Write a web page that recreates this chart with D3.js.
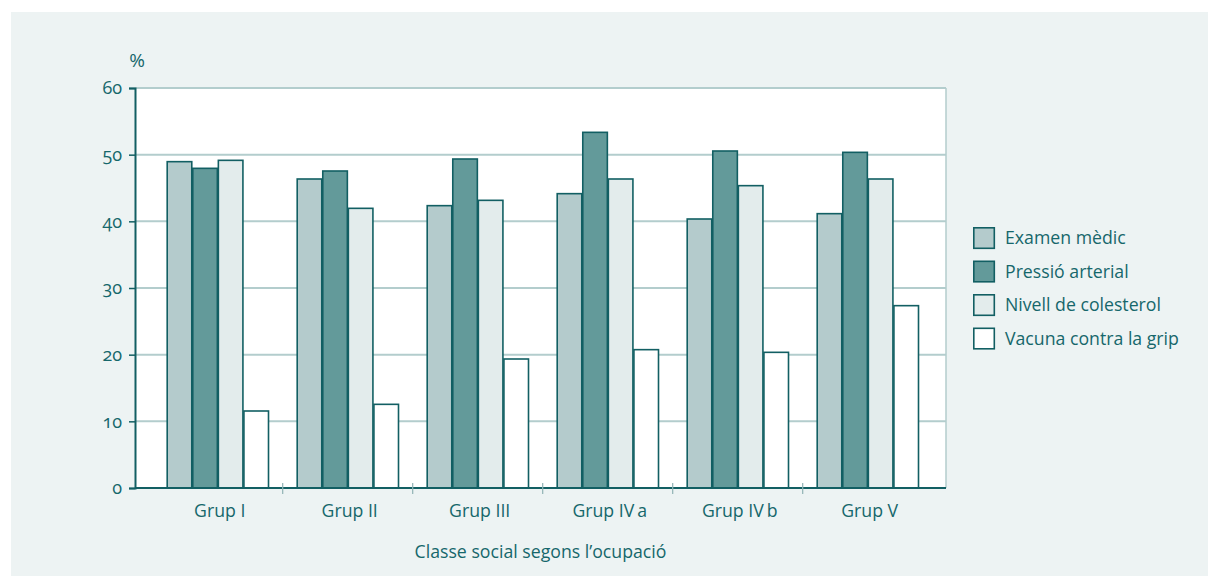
<!DOCTYPE html>
<html>
<head>
<meta charset="utf-8">
<script src="https://cdn.jsdelivr.net/npm/d3@7"></script>
<style>
  html, body { margin: 0; padding: 0; background: #ffffff; }
  svg { display: block; font-family: "Open Sans", Lato, sans-serif; }
  text { fill: #16676b; font-variant-numeric: oldstyle-nums; }
</style>
</head>
<body>
<svg id="chart" width="1208" height="576"></svg>
<script>
// Share of people who had each check-up, by occupational social class (%)
const categories = ["Grup I", "Grup II", "Grup III", "Grup IV\u2009a", "Grup IV\u2009b", "Grup V"];
const seriesNames = ["Examen mèdic", "Pressió arterial", "Nivell de colesterol", "Vacuna contra la grip"];
const examenMedic      = [48.95, 46.35, 42.35, 44.15, 40.35, 41.15];
const pressioArterial  = [47.95, 47.55, 49.35, 53.35, 50.55, 50.35];
const nivellColesterol = [49.15, 41.95, 43.15, 46.35, 45.35, 46.35];
const vacunaGrip       = [11.55, 12.55, 19.35, 20.75, 20.35, 27.35];
const yTicks = [0, 10, 20, 30, 40, 50, 60];
const xTitle = "Classe social segons l\u2019ocupació";
const yUnit = "%";

const seriesValues = [examenMedic, pressioArterial, nivellColesterol, vacunaGrip];
const fills = ["#b4cbcc", "#639a9a", "#e3ecec", "#ffffff"];
const ink = "#125f63";
const gridColor = "#b3cdcd";
const fontSize = 17.7;

const svg = d3.select("#chart");

// Panel background
svg.append("rect").attr("x", 11).attr("y", 12).attr("width", 1197).attr("height", 564)
  .attr("fill", "#edf3f3");

const plot = { left: 135, right: 946, top: 88, bottom: 488 };

svg.append("rect")
  .attr("x", plot.left).attr("y", plot.top)
  .attr("width", plot.right - plot.left).attr("height", plot.bottom - plot.top)
  .attr("fill", "#ffffff");

const y = d3.scaleLinear().domain([0, 60]).range([plot.bottom, plot.top]);
const x = d3.scaleBand().domain(categories).range([152.7, 932.7]).paddingInner(0).paddingOuter(0);
const inner = d3.scaleBand().domain(seriesNames)
  .range([14, x.bandwidth() - 13.7]).padding(0);

// Horizontal gridlines
svg.append("g").selectAll("line").data(yTicks.filter(t => t > 0)).join("line")
  .attr("x1", plot.left).attr("x2", plot.right)
  .attr("y1", d => y(d)).attr("y2", d => y(d))
  .attr("stroke", gridColor).attr("stroke-width", 2);

// Right border of the plot area
svg.append("line").attr("x1", plot.right).attr("x2", plot.right)
  .attr("y1", plot.top).attr("y2", plot.bottom)
  .attr("stroke", gridColor).attr("stroke-width", 1.5);

// Bars
const groups = svg.append("g").selectAll("g").data(categories).join("g")
  .attr("transform", d => `translate(${x(d)},0)`);

groups.selectAll("rect")
  .data((c, i) => seriesNames.map((s, j) => ({ s, j, v: seriesValues[j][i] })))
  .join("rect")
  .attr("x", d => inner(d.s) + 0.5)
  .attr("width", inner.bandwidth() - 1)
  .attr("y", d => y(d.v))
  .attr("height", d => y(0) - y(d.v))
  .attr("fill", d => fills[d.j])
  .attr("stroke", ink).attr("stroke-width", 1.6);

// Y axis
const yAxis = d3.axisLeft(y).tickValues(yTicks).tickSize(6).tickPadding(7).tickFormat(d3.format("d"));
const gy = svg.append("g").attr("transform", `translate(${plot.left},0)`).call(yAxis);
gy.select(".domain").attr("stroke", ink).attr("stroke-width", 2);
gy.selectAll(".tick line").attr("stroke", ink).attr("stroke-width", 1.5);
gy.selectAll(".tick text").attr("font-size", 18).attr("fill", "#16676b")
  .style("font-family", "'Open Sans', sans-serif");

// X axis line with ticks between groups
svg.append("line").attr("x1", plot.left).attr("x2", plot.right)
  .attr("y1", plot.bottom).attr("y2", plot.bottom)
  .attr("stroke", ink).attr("stroke-width", 2);

svg.append("g").selectAll("line").data(categories.slice(1)).join("line")
  .attr("x1", d => x(d)).attr("x2", d => x(d))
  .attr("y1", plot.bottom - 5).attr("y2", plot.bottom + 6)
  .attr("stroke", "#8fb3b4").attr("stroke-width", 1.2);

svg.append("g").selectAll("text").data(categories).join("text")
  .attr("x", d => x(d) + x.bandwidth() / 2 + 2)
  .attr("y", 517)
  .attr("text-anchor", "middle")
  .attr("font-size", fontSize)
  .text(d => d);

// Axis titles
svg.append("text").attr("x", (plot.left + plot.right) / 2).attr("y", 558)
  .attr("text-anchor", "middle").attr("font-size", fontSize).text(xTitle);

svg.append("text").attr("x", 137).attr("y", 67)
  .attr("text-anchor", "middle").attr("font-size", 19).text(yUnit);

// Legend
const legend = svg.append("g").attr("transform", "translate(973,227)");
const rows = legend.selectAll("g").data(seriesNames).join("g")
  .attr("transform", (d, i) => `translate(0,${i * 33.5})`);
rows.append("rect").attr("x", 0.8).attr("y", 0.8).attr("width", 20.5).attr("height", 20.5)
  .attr("fill", (d, i) => fills[i]).attr("stroke", ink).attr("stroke-width", 1.6);
rows.append("text").attr("x", 32).attr("y", 17).attr("font-size", fontSize).text(d => d);
</script>
</body>
</html>
